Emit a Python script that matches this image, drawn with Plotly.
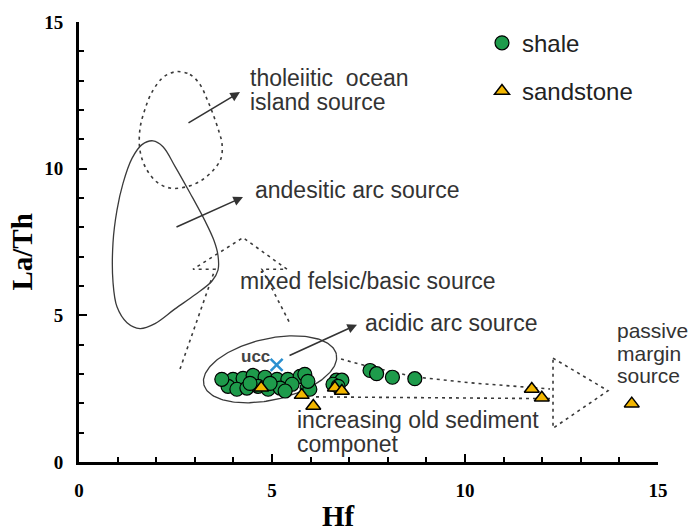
import numpy as np
import plotly.graph_objects as go

# ---------------- data ----------------
shale_hf = [3.99, 4.25, 4.51, 4.82, 5.13, 5.41, 5.73, 5.85,
            3.86, 4.09, 4.35, 4.64, 4.90, 5.21, 5.52, 5.91, 5.98,
            3.70, 4.43, 4.95, 5.34, 5.93,
            6.67, 6.81, 6.58, 6.71,
            7.54, 7.71, 8.12, 8.70]
shale_lath = [2.82, 2.85, 2.95, 2.89, 2.82, 2.82, 2.92, 2.99,
              2.58, 2.48, 2.52, 2.58, 2.48, 2.52, 2.65, 2.52, 2.48,
              2.82, 2.68, 2.68, 2.42, 2.75,
              2.79, 2.79, 2.65, 2.58,
              3.12, 3.01, 2.89, 2.84]

sand_hf = [4.72, 5.77, 6.07, 6.63, 6.81, 11.73, 11.99, 14.32]
sand_lath = [2.53, 2.28, 1.91, 2.53, 2.42, 2.49, 2.19, 1.99]

ucc_hf = [5.12]
ucc_lath = [3.31]

# field outlines (Hf, La/Th)
ocean_hf = [2.565, 2.876, 3.135, 3.316, 3.472, 3.627, 3.705, 3.679, 3.472, 3.135,
            2.746, 2.358, 2.021, 1.736, 1.580, 1.580, 1.710, 1.891, 2.150, 2.358, 2.565]
ocean_lath = [13.31, 13.21, 12.87, 12.37, 11.86, 11.26, 10.85, 10.35, 9.94, 9.57,
              9.37, 9.34, 9.54, 10.01, 10.62, 11.36, 12.03, 12.61, 13.08, 13.25, 13.31]

andes_hf = [1.917, 1.632, 1.373, 1.140, 0.984, 0.881, 0.881, 0.984, 1.244, 1.580, 1.969,
            2.487, 3.005, 3.446, 3.601, 3.601, 3.497, 3.264, 2.876, 2.487, 2.176, 1.917]
andes_lath = [10.95, 10.82, 10.35, 9.50, 8.59, 7.48, 6.13, 5.29, 4.75, 4.55, 4.72,
              5.22, 5.70, 6.17, 6.54, 7.04, 7.55, 8.22, 9.17, 10.08, 10.75, 10.95]

mixed_hf = [2.617, 3.523, 2.953, 4.249, 5.389, 4.741, 5.466]
mixed_lath = [3.17, 6.57, 6.57, 7.65, 6.57, 6.57, 4.72]

sed_up_hf = [6.788, 7.461, 8.705, 10.130, 12.202]
sed_up_lath = [3.51, 3.27, 2.90, 2.70, 2.49]
sed_lo_hf = [6.140, 12.280]
sed_lo_lath = [2.22, 2.16]
sed_head_hf = [12.280, 13.705, 12.280, 12.280]
sed_head_lath = [3.54, 2.43, 1.15, 3.54]

# UCC ellipse (center Hf, La/Th; semi-axes in px; tilt)
ell_center = (4.95, 3.16)
ell_a_px, ell_b_px, ell_tilt_deg = 68, 31, -13

# arrows: (tail_hf, tail_lath, head_hf, head_lath)
arrows = [(2.798, 11.53, 4.171, 12.61),
          (2.487, 7.99, 4.249, 9.03),
          (5.415, 3.61, 7.202, 4.68)]

# labels: (text, hf, lath, size)
labels = [("tholeiitic  ocean", 4.378, 13.08, 23),
          ("island source", 4.378, 12.27, 23),
          ("andesitic arc source", 4.508, 9.27, 23),
          ("mixed felsic/basic source", 4.119, 6.17, 23),
          ("acidic arc source", 7.358, 4.74, 23),
          ("increasing old sediment", 5.596, 1.42, 23),
          ("componet", 5.596, 0.61, 23),
          ("passive", 13.886, 4.48, 21),
          ("margin", 13.886, 3.71, 21),
          ("source", 13.886, 2.94, 21)]

x_ticks = [0, 5, 10, 15]
y_ticks = [0, 5, 10, 15]

# ---------------- figure ----------------
W, H = 693, 531
ml, mr, mt, mb = 79, 35, 17, 69
px_per_x = (W - ml - mr) / 15.0
px_per_y = (H - mt - mb) / 15.0

fig = go.Figure()

line_col = "#3a3a3a"
dot = "3px,4px"

def add_line(xs, ys, dash=None, spline=False, width=1.4):
    fig.add_trace(go.Scatter(
        x=xs, y=ys, mode="lines", showlegend=False, hoverinfo="skip",
        line=dict(color=line_col, width=width, dash=dash,
                  shape="spline" if spline else "linear", smoothing=1.0)))

add_line(ocean_hf, ocean_lath, dash=dot, spline=True, width=1.6)
add_line(andes_hf, andes_lath, spline=True, width=1.3)
add_line(mixed_hf, mixed_lath, dash=dot, width=1.6)
add_line(sed_up_hf, sed_up_lath, dash=dot, width=1.6)
add_line(sed_lo_hf, sed_lo_lath, dash=dot, width=1.6)
add_line(sed_head_hf, sed_head_lath, dash=dot, width=1.6)

# ellipse
t = np.linspace(0, 2 * np.pi, 200)
th = np.deg2rad(ell_tilt_deg)
ex_px = ell_a_px * np.cos(t) * np.cos(th) - ell_b_px * np.sin(t) * np.sin(th)
ey_px = ell_a_px * np.cos(t) * np.sin(th) + ell_b_px * np.sin(t) * np.cos(th)
add_line(ell_center[0] + ex_px / px_per_x, ell_center[1] - ey_px / px_per_y, width=1.3)

fig.add_trace(go.Scatter(
    x=shale_hf, y=shale_lath, mode="markers", name="shale",
    legendgroup="a",
    marker=dict(symbol="circle", size=14, color="#1E9B4B",
                line=dict(color="#000000", width=1.2))))
fig.add_trace(go.Scatter(
    x=sand_hf, y=sand_lath, mode="markers", name="sandstone",
    legendgroup="b",
    marker=dict(symbol="triangle-up", size=13, color="#F2B600",
                line=dict(color="#000000", width=1.5))))
fig.add_trace(go.Scatter(
    x=ucc_hf, y=ucc_lath, mode="markers", showlegend=False,
    marker=dict(symbol="x-thin", size=12, color="#2A90D0",
                line=dict(color="#2A90D0", width=2.5))))

annotations = []
for (x0, y0, x1, y1) in arrows:
    annotations.append(dict(
        x=x1, y=y1, ax=x0, ay=y0, xref="x", yref="y", axref="x", ayref="y",
        text="", showarrow=True, arrowhead=2, arrowsize=1.2, arrowwidth=1.6,
        arrowcolor="#333333"))
for (txt, x, y, s) in labels:
    annotations.append(dict(
        x=x, y=y, xref="x", yref="y", text=txt, showarrow=False,
        xanchor="left", yanchor="middle",
        font=dict(family="Liberation Sans, Arial", size=s, color="#333333")))
annotations.append(dict(
    x=4.56, y=3.61, xref="x", yref="y", text="ucc", showarrow=False,
    xanchor="center", yanchor="middle",
    font=dict(family="Liberation Sans, Arial", size=17, color="#444444", weight="bold")))
# axis titles
annotations.append(dict(
    x=-0.0984, y=0.476, xref="paper", yref="paper", text="La/Th", textangle=-90,
    showarrow=False, xanchor="center", yanchor="middle",
    font=dict(family="Liberation Serif, Times New Roman", size=29, color="#000000", weight="bold")))
annotations.append(dict(
    x=0.449, y=-0.1236, xref="paper", yref="paper", text="Hf",
    showarrow=False, xanchor="center", yanchor="middle",
    font=dict(family="Liberation Serif, Times New Roman", size=29, color="#000000", weight="bold")))

def axis_common(standoff):
    return dict(
        range=[0, 15], showgrid=False, zeroline=False, showline=True,
        linecolor="#000000", linewidth=3, ticks="inside", ticklen=8, tickwidth=2,
        tickcolor="#000000", tickmode="array",
        tickfont=dict(family="Liberation Serif, Times New Roman", size=19,
                      color="#000000", weight="bold"),
        minor=dict(ticks="inside", ticklen=5, tickwidth=2, tickcolor="#000000",
                   dtick=1, showgrid=False),
        ticklabelstandoff=standoff,
    )

fig.update_layout(
    width=W, height=H,
    margin=dict(l=ml, r=mr, t=mt, b=mb, pad=0),
    paper_bgcolor="white", plot_bgcolor="white",
    xaxis=dict(tickvals=x_ticks, **axis_common(9)),
    yaxis=dict(tickvals=y_ticks, **axis_common(9)),
    annotations=annotations,
    showlegend=True,
    legend=dict(x=0.696, y=1.003, xanchor="left", yanchor="top",
                traceorder="grouped", tracegroupgap=14,
                bgcolor="rgba(0,0,0,0)",
                font=dict(family="Liberation Sans, Arial", size=24, color="#222222")),
)

fig.write_html("out.html")
